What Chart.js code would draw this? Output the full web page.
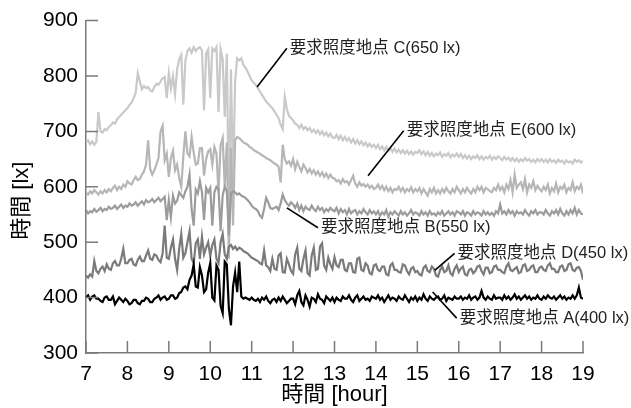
<!DOCTYPE html>
<html><head><meta charset="utf-8">
<script src="https://cdn.jsdelivr.net/npm/chart.js@4/dist/chart.umd.min.js"></script>
<style>html,body{margin:0;padding:0;background:#fff;}canvas{display:block;}</style>
</head><body>
<canvas id="c" width="631" height="408"></canvas>
<script>
// time axis: 7:00 to 19:00 every 0.05 h (3 min)
const hours = Array.from({length:241}, (_, i) => Math.round((7 + i / 20) * 100) / 100);
const xTicks = [7,8,9,10,11,12,13,14,15,16,17,18,19];
const yTicks = [300,400,500,600,700,800,900];

const seriesC = [
 680,684,677,682,676,681,735,700,698,704,702,708,711,716,714,722,726,730,734,738,
 742,748,752,760,770,805,790,776,782,778,780,774,772,780,786,784,790,796,798,760,
 805,778,800,768,812,830,838,748,828,845,850,842,852,845,850,852,846,738,840,848,
 760,850,845,852,735,848,830,726,840,560,812,600,790,832,828,832,820,815,808,800,
 792,788,784,778,772,766,760,754,750,746,742,736,730,724,712,704,762,740,728,724,
 720,714,712,706,712,704,708,702,706,699,703,697,702,695,700,693,698,691,696,689,
 688,694,686,692,684,690,683,688,680,686,678,684,677,682,675,680,673,678,672,676,
 670,676,668,673,666,672,665,670,663,669,662,667,661,666,660,665,659,664,658,663,
 661,666,659,664,657,663,656,661,655,660,657,662,654,659,656,661,653,658,655,660,
 654,659,652,657,651,656,650,655,652,657,650,655,649,654,651,656,649,654,650,655,
 652,648,654,649,653,647,652,646,651,645,650,646,652,647,650,645,649,644,650,646,
 650,645,649,644,650,645,648,643,649,645,647,642,648,644,646,642,649,645,648,644,
 647];
const seriesE = [
 590,586,592,588,594,590,586,592,588,594,590,596,592,598,602,594,600,596,604,600,
 610,606,604,612,618,612,614,622,628,640,684,632,622,630,640,652,700,710,648,660,
 618,652,665,630,640,616,600,655,700,660,655,690,662,640,642,670,670,620,650,664,
 668,640,672,660,590,675,688,600,680,470,670,530,684,690,688,684,680,678,676,672,
 670,666,664,662,660,657,655,652,650,648,645,642,640,636,608,676,650,642,646,638,
 650,632,645,636,628,640,634,626,632,624,630,622,628,620,626,618,624,616,622,616,
 615,610,612,606,614,608,610,604,612,620,606,600,608,602,605,600,604,598,602,596,
 598,604,596,602,594,600,592,598,590,596,594,600,592,598,590,596,592,599,590,596,
 592,598,588,596,590,584,596,590,598,588,594,588,596,590,598,592,588,596,590,600,
 594,588,596,590,598,592,588,596,590,600,594,600,590,598,596,592,590,598,594,604,
 594,600,590,604,596,612,590,622,598,604,608,596,614,590,604,598,610,594,602,596,
 592,600,594,604,588,598,592,606,590,600,596,604,590,598,594,608,592,600,596,604,
 588];
const seriesB = [
 558,552,556,554,560,555,558,562,556,560,558,564,560,562,566,560,564,568,562,566,
 564,570,566,568,572,566,570,574,568,576,572,574,578,572,576,580,574,578,582,540,
 576,545,584,570,575,590,585,580,592,600,622,560,530,595,588,610,590,540,598,590,
 598,530,590,600,596,520,585,600,592,512,588,592,590,586,588,584,582,580,576,572,
 566,562,560,556,548,544,560,580,572,562,560,562,564,558,570,586,576,570,566,572,
 568,562,570,558,566,556,564,560,558,566,560,556,564,558,562,554,560,556,562,558,
 556,562,552,560,554,558,550,560,552,556,558,550,556,552,560,554,550,558,552,556,
 550,556,548,554,550,558,546,554,550,556,552,548,556,550,554,548,552,558,550,554,
 552,548,556,550,554,548,556,550,552,548,554,550,556,548,552,556,550,554,548,556,
 554,550,556,548,554,552,548,556,550,554,552,548,556,550,554,549,553,548,556,552,
 568,552,556,550,558,552,556,548,556,552,554,550,558,552,548,556,552,558,550,554,
 554,550,558,552,548,556,552,558,550,560,552,548,556,550,558,552,562,550,558,552,
 550];
const seriesD = [
 440,436,442,438,466,448,444,452,456,448,460,452,450,462,466,458,458,470,488,462,
 462,468,470,460,458,468,474,466,466,476,485,470,468,478,476,468,464,480,530,472,
 470,490,505,470,450,488,515,472,480,500,520,470,462,498,505,470,510,478,490,500,
 475,495,505,470,462,500,515,478,470,492,495,488,492,486,490,488,484,482,480,476,
 472,470,468,466,462,460,485,458,455,448,470,452,450,476,480,446,445,470,460,448,
 443,478,490,452,448,470,485,444,440,476,490,450,452,492,498,458,450,472,460,452,
 473,458,455,468,468,450,448,462,462,446,445,470,472,450,448,462,458,444,442,458,
 460,450,448,456,456,442,440,458,462,450,450,446,445,460,458,448,442,452,455,446,
 448,442,440,454,458,448,446,456,452,440,438,450,456,446,448,458,444,440,452,458,
 446,452,456,442,440,450,452,444,448,456,458,448,442,454,454,444,446,456,458,450,
 450,446,444,456,462,450,448,452,455,444,446,458,460,448,450,456,458,446,446,454,
 456,450,448,458,462,452,452,446,446,456,458,448,450,460,462,450,448,454,455,448,
 432];
const seriesA = [
 400,404,396,402,404,398,398,394,392,400,402,396,396,402,388,394,400,396,392,398,
 394,388,390,396,396,390,388,394,394,400,398,392,392,398,400,404,396,400,402,396,
 398,404,404,398,400,408,410,418,420,415,432,440,460,420,418,455,440,410,415,445,
 462,400,395,458,450,385,372,465,460,380,350,420,445,410,465,402,398,400,398,396,
 400,396,394,398,392,400,396,402,394,390,396,398,392,400,394,402,396,390,394,398,
 398,388,404,412,392,386,404,396,384,400,398,392,406,398,396,390,402,398,394,400,
 392,400,396,394,402,398,398,404,396,392,400,404,394,398,402,396,398,394,402,400,
 398,404,396,400,392,398,404,396,400,398,394,402,398,396,404,398,392,400,396,402,
 394,400,396,406,398,394,402,398,396,400,402,396,398,404,394,400,398,396,402,398,
 398,402,396,400,398,404,396,400,402,396,400,412,400,396,402,398,396,404,398,400,
 400,396,404,398,402,396,400,406,398,402,396,400,404,398,402,396,400,398,404,398,
 396,402,398,404,400,398,402,396,400,404,398,402,396,400,398,404,398,404,418,400,
 398];

// annotation labels: text, leader start (hour, lx), leader end (hour, lx)
const labels = [
 {text:'要求照度地点 C(650 lx)', from:[11.13,780], to:[11.85,850]},
 {text:'要求照度地点 E(600 lx)', from:[13.81,620], to:[14.67,701]},
 {text:'要求照度地点 B(550 lx)', from:[11.85,562], to:[12.60,526]},
 {text:'要求照度地点 D(450 lx)', from:[15.42,449], to:[15.90,480]},
 {text:'要求照度地点 A(400 lx)', from:[15.37,410], to:[15.95,363]}
];
const yTitle = '時間 [lx]';
const xTitle = '時間 [hour]';

const FONT = "'Liberation Sans', 'Noto Sans CJK JP', Arial, sans-serif";
const AXIS = '#7a7a7a';

const mk = (vals) => hours.map((h, i) => ({x: h, y: vals[i]}));

const extras = {
  id: 'extras',
  afterDatasetsDraw(chart) {
    const ctx = chart.ctx, xs = chart.scales.x, ys = chart.scales.y;
    ctx.save();
    ctx.strokeStyle = AXIS; ctx.lineWidth = 1.5;
    ctx.beginPath();
    xTicks.forEach(t => { const p = xs.getPixelForValue(t); ctx.moveTo(p, ys.bottom); ctx.lineTo(p, ys.bottom - 12); });
    yTicks.forEach(t => { const p = ys.getPixelForValue(t); ctx.moveTo(xs.left, p); ctx.lineTo(xs.left + 12, p); });
    ctx.stroke();
    // annotations
    ctx.strokeStyle = '#000'; ctx.lineWidth = 1.6;
    ctx.fillStyle = '#222';
    ctx.font = '16.5px ' + FONT;
    ctx.textBaseline = 'middle'; ctx.textAlign = 'left';
    labels.forEach(l => {
      const x1 = xs.getPixelForValue(l.from[0]), y1 = ys.getPixelForValue(l.from[1]);
      const x2 = xs.getPixelForValue(l.to[0]), y2 = ys.getPixelForValue(l.to[1]);
      ctx.beginPath(); ctx.moveTo(x1, y1); ctx.lineTo(x2, y2); ctx.stroke();
      ctx.fillText(l.text, x2 + 3, y2);
    });
    // y axis title
    ctx.fillStyle = '#000';
    ctx.font = '22px ' + FONT;
    ctx.textAlign = 'center';
    ctx.translate(22, ys.getPixelForValue(575));
    ctx.rotate(-Math.PI / 2);
    ctx.fillText(yTitle, 0, 0);
    ctx.restore();
  }
};

new Chart(document.getElementById('c'), {
  type: 'line',
  data: {
    datasets: [
      {label:'A', data: mk(seriesA), borderColor:'#000000'},
      {label:'D', data: mk(seriesD), borderColor:'#7a7a7a'},
      {label:'B', data: mk(seriesB), borderColor:'#9c9c9c'},
      {label:'E', data: mk(seriesE), borderColor:'#b6b6b6'},
      {label:'C', data: mk(seriesC), borderColor:'#c9c9c9'}
    ]
  },
  options: {
    responsive: false,
    animation: false,
    layout: {padding: {top: 19, right: 48, left: 0, bottom: 0}},
    plugins: {legend: {display: false}, tooltip: {enabled: false}},
    elements: {point: {radius: 0}, line: {borderWidth: 2.2, tension: 0, fill: false}},
    scales: {
      x: {
        type: 'linear', min: 7, max: 19,
        afterBuildTicks: s => { s.ticks = xTicks.map(v => ({value: v})); },
        ticks: {font: {size: 21, family: FONT}, color: '#000', padding: 9, maxRotation: 0, autoSkip: false},
        grid: {display: false, drawTicks: false},
        border: {color: AXIS, width: 1.5},
        title: {display: true, text: xTitle, color: '#000', font: {size: 22, family: FONT}, padding: {top: 0, bottom: 0}},
        afterFit: s => { s.height = 55; }
      },
      y: {
        type: 'linear', min: 300, max: 900,
        afterBuildTicks: s => { s.ticks = yTicks.map(v => ({value: v})); },
        ticks: {font: {size: 21, family: FONT}, color: '#000', padding: 8},
        grid: {display: false, drawTicks: false},
        border: {color: AXIS, width: 1.5},
        title: {display: false},
        afterFit: s => { s.width = 86; }
      }
    }
  },
  plugins: [extras]
});
</script>
</body></html>
